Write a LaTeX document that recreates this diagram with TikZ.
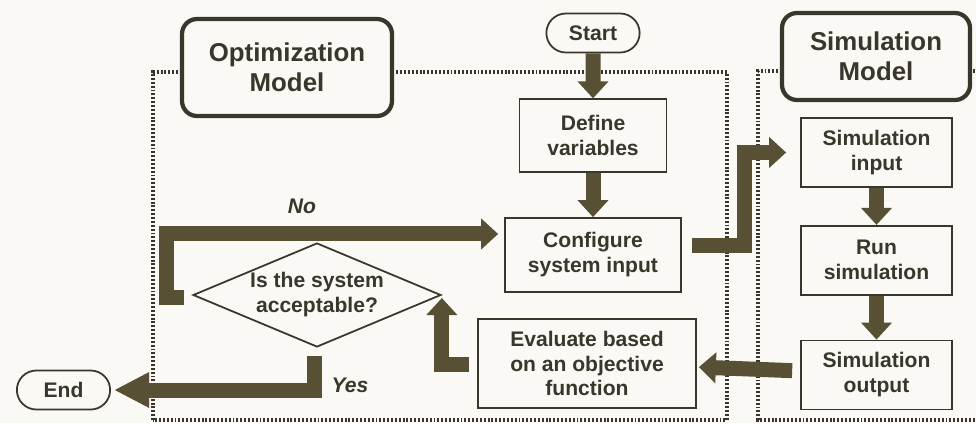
\documentclass[tikz,border=0pt]{standalone}
\usepackage{fontspec}
\setmainfont{Liberation Sans}
\usetikzlibrary{arrows.meta, positioning, shapes.geometric, shapes.misc, calc}

\definecolor{paper}{RGB}{250,249,245}
\definecolor{ink}{RGB}{58,54,44}
\definecolor{olive}{RGB}{88,80,52}

\begin{document}
\begin{tikzpicture}[x=0.02cm, y=-0.02cm, text=ink,
    font=\fontsize{12}{14.2}\selectfont\bfseries,
    title/.style={draw=ink, line width=2.4pt, rounded corners=0.3cm, fill=paper, align=center, font=\fontsize{14.7}{17}\selectfont\bfseries},
    proc/.style={draw=ink, line width=1pt, fill=paper, align=center},
    term/.style={draw=ink, line width=1pt, rounded rectangle, minimum width=2.1cm, minimum height=0.78cm},
    decision/.style={draw=ink, line width=1pt, diamond, shape aspect=2.4, align=center, inner sep=0pt, minimum width=4.96cm, minimum height=2.08cm},
    frame/.style={draw=ink, line width=1.9pt, dash pattern=on 1.1pt off 1.1pt},
    flow/.style={draw=olive, line width=0.3cm, line join=miter, -{Triangle[width=0.6cm, length=0.34cm]}},
    lbl/.style={font=\fontsize{12}{14}\selectfont\bfseries\itshape},
    ]

    \useasboundingbox (0,0) rectangle (976,423);
    \clip (0,0) rectangle (976,423);
    \fill[paper] (0,0) rectangle (976,423);

    % Frames
    \draw[frame] (153,420) -- (153,72) -- (727,72) -- (727,420) -- cycle;
    \draw[frame] (990,420) -- (758,420) -- (758,71) -- (990,71);

    % Titles
    \node[title, minimum width=4.2cm, minimum height=1.94cm] (optmodel) at (287,67.5) {Optimization\\Model};
    \node[title, minimum width=3.76cm, minimum height=1.74cm] (simmodel) at (876,56.5) {Simulation\\Model};

    % Optimization side
    \node[term] (start) at (593,33) {Start};
    \node[proc, minimum width=2.94cm, minimum height=1.46cm, below=0.9cm of start] (define) {Define\\variables};
    \node[proc, minimum width=3.52cm, minimum height=1.48cm, below=0.88cm of define] (config) {Configure\\system input};
    \node[proc, minimum width=4.36cm, minimum height=1.78cm] (evaluate) at (587,363.5) {Evaluate based\\on an objective\\function};
    \node[decision] (accept) at (317,295) {Is the system\\acceptable?};
    \node[term] (end) at (63.5,390) {End};

    % Simulation side
    \node[proc, minimum width=3.02cm, minimum height=1.38cm] (simin) at (876.5,152.5) {Simulation\\input};
    \node[proc, minimum width=3.02cm, minimum height=1.38cm, below=0.74cm of simin] (runsim) {Run\\simulation};
    \node[proc, minimum width=3.02cm, minimum height=1.38cm, below=0.88cm of runsim] (simout) {Simulation\\output};

    % Labels
    \node[lbl] (no) at (302,206) {No};
    \node[lbl] (yes) at (350,385) {Yes};

    % Arrows
    \draw[flow] (start) -- (define);
    \draw[flow] (define) -- (config);
    \draw[flow, shorten >=0.28cm] ($(config.east)+(10,-9)$) -- ++(52.5,0) |- (simin.west);
    \draw[flow] (simin) -- (runsim);
    \draw[flow] (runsim) -- (simout);
    \draw[flow, shorten <=0.16cm, shorten >=0.04cm] ($(simout.west)+(0,-4)$) -- ($(evaluate.east)+(0,3.5)$);
    \draw[flow, shorten >=0.06cm] ($(evaluate.west)+(-8,1)$) -| (accept.east);
    \draw[flow, shorten >=0.12cm] ($(accept.west)+(-8,2)$) -- ++(-17.5,0) |- ($(config.west)+(0,-21)$);
    \draw[flow, shorten >=0.06cm, -{Triangle[width=0.66cm, length=0.7cm]}] ($(accept.south)+(-2.5,8)$) |- (end.east);
\end{tikzpicture}
\end{document}
